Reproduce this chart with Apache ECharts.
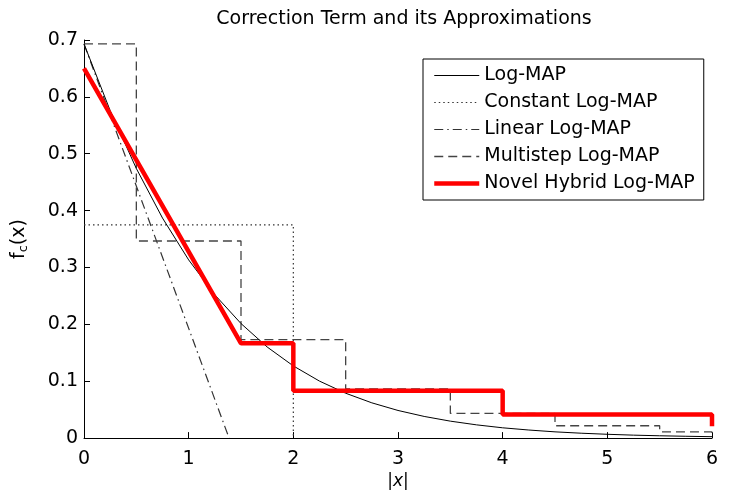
<!DOCTYPE html>
<html><head><meta charset="utf-8">
<script src="https://cdn.jsdelivr.net/npm/echarts@6/dist/echarts.min.js"></script>
<style>html,body{margin:0;padding:0;background:#fff}#c{width:735px;height:495px}</style>
</head><body><div id="c"></div>
<script>
var seriesNames = ['Log-MAP','Constant Log-MAP','Linear Log-MAP','Multistep Log-MAP','Novel Hybrid Log-MAP'];
var xTicks = [0,1,2,3,4,5,6];
var yTicks = [0,0.1,0.2,0.3,0.4,0.5,0.6,0.7];

var logmapX = [0,0.25,0.5,0.75,1,1.25,1.5,1.75,2,2.25,2.5,2.75,3,3.25,3.5,3.75,4,4.25,4.5,4.75,5,5.25,5.5,5.75,6];
var logmapY = [0.6931,0.5759,0.4741,0.3869,0.3133,0.2519,0.2014,0.1602,0.1269,0.1002,0.0789,0.0620,0.0486,0.0381,0.0298,0.0233,0.0181,0.0142,0.0110,0.0086,0.0067,0.0052,0.0041,0.0032,0.0025];

var constX = [0,2,2];
var constY = [0.375,0.375,0];

var linearX = [0,1.386];
var linearY = [0.6931,0];

var multiX = [0,0.5,0.5,1.5,1.5,2.5,2.5,3.5,3.5,4.5,4.5,5.5,5.5,6,6];
var multiY = [0.6931,0.6931,0.3466,0.3466,0.1733,0.1733,0.0866,0.0866,0.0433,0.0433,0.0217,0.0217,0.0108,0.0108,0];

var hybridX = [0,1.5,2,2,4,4,6,6];
var hybridY = [0.65,0.1667,0.1667,0.0833,0.0833,0.0417,0.0417,0.0208];

function pairs(xs, ys){ return xs.map(function(x,i){ return [x, ys[i]]; }); }

var FONT = 'DejaVu Sans';
var legendWidths = [1, 1.2, 1.2, 1.3, 4.5];
var chart = echarts.init(document.getElementById('c'), null, {renderer:'canvas'});
chart.setOption({
  animation:false,
  backgroundColor:'#fff',
  title:{text:'Correction Term and its Approximations', left:399, top:5, textAlign:'center',
    textStyle:{fontFamily:FONT, fontSize:19, fontWeight:'normal', color:'#000'}},
  grid:{left:84, right:23, top:40, bottom:54, containLabel:false},
  legend:{orient:'vertical', left:423, top:59, padding:[7,9,7,9], itemWidth:45, itemHeight:14, itemGap:8,
    borderColor:'#000', borderWidth:1, backgroundColor:'#fff',
    data:seriesNames.map(function(n,i){ return {name:n, lineStyle:{width:legendWidths[i]}}; }),
    itemStyle:{color:'rgba(0,0,0,0)', borderWidth:0, opacity:0},
    textStyle:{fontFamily:FONT, fontSize:19, color:'#000', padding:[0,0,0,0]}},
  xAxis:{type:'value', min:0, max:6, interval:1,
    name:'{v||}{i|x}{v||}', nameLocation:'middle', nameGap:30,
    nameTextStyle:{rich:{v:{fontFamily:FONT, fontSize:17, color:'#000'}, i:{fontFamily:FONT, fontSize:17, fontStyle:'italic', color:'#000'}}},
    axisLine:{lineStyle:{color:'#000', width:1}},
    axisTick:{inside:true, length:6, lineStyle:{color:'#000'}},
    axisLabel:{fontFamily:FONT, fontSize:19, color:'#000', margin:11},
    splitLine:{show:false}},
  yAxis:{type:'value', min:0, max:0.7, interval:0.1,
    name:'{f|f}{c|c}{f|(x)}', nameLocation:'middle', nameGap:54, nameRotate:90,
    nameTextStyle:{rich:{f:{fontFamily:FONT, fontSize:19, color:'#000'}, c:{fontFamily:FONT, fontSize:13, color:'#000', padding:[9,0,0,0]}}},
    axisLine:{lineStyle:{color:'#000', width:1}},
    axisTick:{inside:true, length:6, lineStyle:{color:'#000'}},
    axisLabel:{fontFamily:FONT, fontSize:19, color:'#000', margin:6, formatter:function(v){return String(Math.round(v*10)/10);}},
    splitLine:{show:false}},
  series:[
    {name:seriesNames[0], type:'line', symbol:'none', data:pairs(logmapX, logmapY), smooth:false,
      lineStyle:{color:'#000', width:1}, itemStyle:{color:'#000'}, z:3},
    {name:seriesNames[1], type:'line', symbol:'none', data:pairs(constX, constY),
      lineStyle:{color:'#333', width:1.2, type:[1.5,3]}, itemStyle:{color:'#333'}, z:2},
    {name:seriesNames[2], type:'line', symbol:'none', data:pairs(linearX, linearY),
      lineStyle:{color:'#333', width:1.2, type:[9,4,1.5,4]}, itemStyle:{color:'#333'}, z:2},
    {name:seriesNames[3], type:'line', symbol:'none', data:pairs(multiX, multiY),
      lineStyle:{color:'#444', width:1.3, type:[9,5]}, itemStyle:{color:'#444'}, z:2},
    {name:seriesNames[4], type:'line', symbol:'none', data:pairs(hybridX, hybridY),
      lineStyle:{color:'#ff0000', width:4.5}, itemStyle:{color:'#ff0000'}, z:4}
  ]
});
</script></body></html>
